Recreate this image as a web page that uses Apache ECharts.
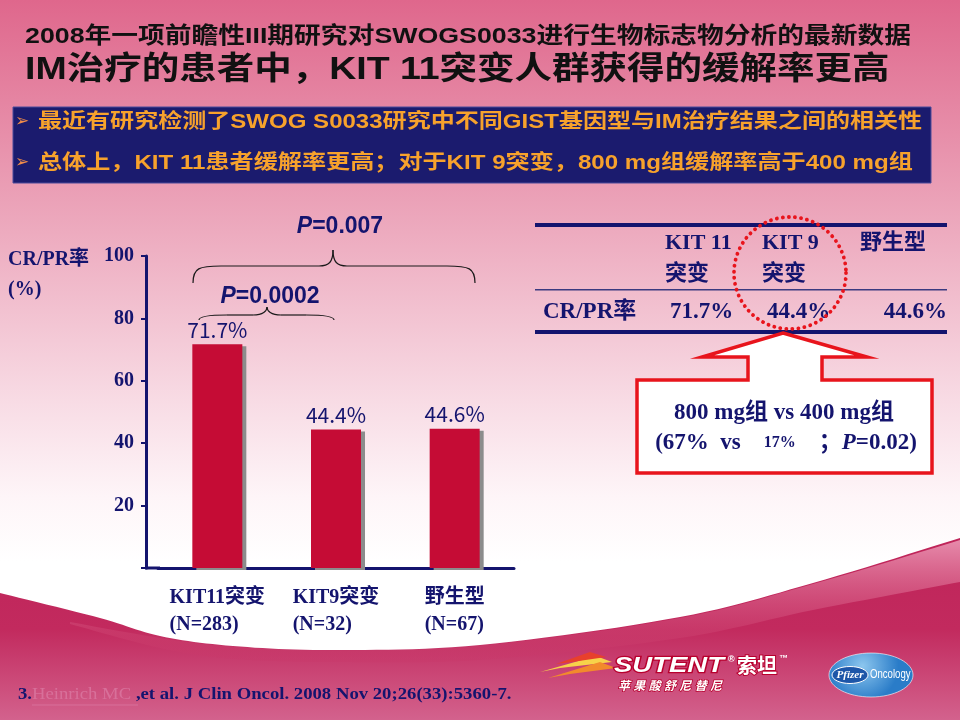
<!DOCTYPE html>
<html>
<head>
<meta charset="utf-8">
<script src="https://cdn.jsdelivr.net/npm/echarts@6/dist/echarts.min.js"></script>
<style>
html, body { margin: 0; padding: 0; background: #fff; }
#main { width: 960px; height: 720px; }
</style>
</head>
<body>
<div id="main"></div>
<script>
// 图表数据
const categories = ['KIT11突变', 'KIT9突变', '野生型'];
const sampleSizes = ['(N=283)', '(N=32)', '(N=67)'];
const responseRates = [71.7, 44.4, 44.6];
const yTicks = [0, 20, 40, 60, 80, 100];
const pValues = ['0.007', '0.0002'];
const tableHeads = [['KIT 11', '突变'], ['KIT 9', '突变'], ['野生型']];
const doseCompare = ['67%', '17%', '0.02'];

const NAVY = '#14146e';
const SERIF = '"Liberation Serif", "Noto Sans CJK SC", serif';
const SANS = '"Liberation Sans", "Noto Sans CJK SC", sans-serif';

function txt(x, y, text, size, opts) {
    opts = opts || {};
    return {
        type: 'text',
        x: x,
        y: y,
        scaleX: opts.scaleX || 1,
        z: opts.z || 20,
        style: {
            text: text,
            fill: opts.color || NAVY,
            fontSize: size,
            fontWeight: opts.weight || 'bold',
            fontStyle: opts.italic ? 'italic' : 'normal',
            fontFamily: opts.family || SERIF,
            align: opts.align || 'left',
            verticalAlign: 'middle',
            textAlign: opts.align || 'left',
            textVerticalAlign: 'middle',
            stroke: opts.stroke,
            lineWidth: opts.strokeWidth || 0,
            rich: opts.rich
        }
    };
}

function rs(size, extra) {
    return Object.assign({
        fontSize: size, fontWeight: 'bold', fontFamily: SERIF, fill: NAVY, color: NAVY
    }, extra || {});
}

// Catmull-Rom 平滑曲线采样（仅用于背景装饰）
function spline(pts, n) {
    const out = [];
    for (let i = 0; i < pts.length - 1; i++) {
        const p0 = pts[Math.max(i - 1, 0)], p1 = pts[i], p2 = pts[i + 1], p3 = pts[Math.min(i + 2, pts.length - 1)];
        for (let k = 0; k < n; k++) {
            const t = k / n, t2 = t * t, t3 = t2 * t;
            out.push([0, 1].map(d => 0.5 * (2 * p1[d] + (-p0[d] + p2[d]) * t +
                (2 * p0[d] - 5 * p1[d] + 4 * p2[d] - p3[d]) * t2 +
                (-p0[d] + 3 * p1[d] - 3 * p2[d] + p3[d]) * t3)));
        }
    }
    out.push(pts[pts.length - 1]);
    return out;
}

// 横向花括号
function brace(x1, x2, yEnd, yFlat, yPeak, xPeak) {
    const s = { stroke: '#1a1a1a', lineWidth: 1.2, fill: null };
    const r = 14;
    return [
        { type: 'bezierCurve', z: 20, style: s, shape: { x1: x1, y1: yEnd, cpx1: x1, cpy1: yFlat + 2, cpx2: x1 + 6, cpy2: yFlat, x2: x1 + r * 2, y2: yFlat } },
        { type: 'line', z: 20, style: s, shape: { x1: x1 + r * 2, y1: yFlat, x2: xPeak - r, y2: yFlat } },
        { type: 'bezierCurve', z: 20, style: s, shape: { x1: xPeak - r, y1: yFlat, cpx1: xPeak - 4, cpy1: yFlat, cpx2: xPeak, cpy2: yFlat - 4, x2: xPeak, y2: yPeak } },
        { type: 'bezierCurve', z: 20, style: s, shape: { x1: xPeak, y1: yPeak, cpx1: xPeak, cpy1: yFlat - 4, cpx2: xPeak + 4, cpy2: yFlat, x2: xPeak + r, y2: yFlat } },
        { type: 'line', z: 20, style: s, shape: { x1: xPeak + r, y1: yFlat, x2: x2 - r * 2, y2: yFlat } },
        { type: 'bezierCurve', z: 20, style: s, shape: { x1: x2 - r * 2, y1: yFlat, cpx1: x2 - 6, cpy1: yFlat, cpx2: x2, cpy2: yFlat + 2, x2: x2, y2: yEnd } }
    ];
}

const chart = echarts.init(document.getElementById('main'));

const waveTop = spline([[0, 593], [100, 618], [160, 636], [233, 646], [333, 650], [480, 645],
    [680, 617], [813, 583], [960, 538]], 12);
const wavePoly = waveTop.concat([[960, 720], [0, 720]]);
const bandUpper = spline([[70, 622], [160, 638], [233, 647], [333, 651], [480, 646],
    [680, 618], [813, 584], [960, 540]], 12);
const bandLower = spline([[960, 582], [813, 610], [680, 638], [480, 660], [333, 662],
    [233, 659], [160, 648], [70, 624]], 12);

const graphics = [];

// 背景
graphics.push({
    type: 'rect', z: -10, shape: { x: 0, y: 0, width: 960, height: 720 },
    style: {
        fill: new echarts.graphic.LinearGradient(0, 0, 0, 1, [
            { offset: 0, color: '#df678c' },
            { offset: 0.28, color: '#eba2b8' },
            { offset: 0.56, color: '#f8dce5' },
            { offset: 0.69, color: '#fef5f8' },
            { offset: 0.78, color: '#ffffff' },
            { offset: 1, color: '#ffffff' }
        ])
    }
});
graphics.push({
    type: 'polygon', z: -9, shape: { points: wavePoly },
    style: {
        fill: new echarts.graphic.LinearGradient(0, 0, 0, 1, [
            { offset: 0, color: '#bf2459' },
            { offset: 0.5, color: '#c22a5e' },
            { offset: 1, color: '#d3628d' }
        ])
    }
});
graphics.push({
    type: 'polygon', z: -8, shape: { points: bandUpper.concat(bandLower) },
    style: {
        fill: new echarts.graphic.LinearGradient(0, 0, 0, 1, [
            { offset: 0, color: 'rgba(235,150,180,0.9)' },
            { offset: 1, color: 'rgba(200,50,100,0.2)' }
        ])
    }
});

// 标题
graphics.push(txt(25, 37, '2008年一项前瞻性III期研究对SWOGS0033进行生物标志物分析的最新数据', 22.3,
    { family: SANS, color: '#111', scaleX: 1.2 }));
graphics.push(txt(25, 70, 'IM治疗的患者中，KIT 11突变人群获得的缓解率更高', 31.25,
    { family: SANS, color: '#111', scaleX: 1.2 }));

// 蓝色说明框
graphics.push({
    type: 'rect', z: 5, shape: { x: 13, y: 107, width: 918, height: 76 },
    style: { fill: '#1b1b6e', stroke: '#4a4a9a', lineWidth: 1 }
});
graphics.push(txt(15, 122, '➢', 17, { family: '"DejaVu Sans"', color: '#f08c4a', weight: 'normal' }));
graphics.push(txt(15, 163, '➢', 17, { family: '"DejaVu Sans"', color: '#f08c4a', weight: 'normal' }));
graphics.push(txt(38, 122, '最近有研究检测了SWOG S0033研究中不同GIST基因型与IM治疗结果之间的相关性', 20.05,
    { family: SANS, color: '#f7a22c', scaleX: 1.2 }));
graphics.push(txt(38, 163, '总体上，KIT 11患者缓解率更高；对于KIT 9突变，800 mg组缓解率高于400 mg组', 20.1,
    { family: SANS, color: '#f7a22c', scaleX: 1.2 }));

// 柱状图注释
graphics.push(txt(8, 260, 'CR/PR率', 20));
graphics.push(txt(8, 290, '(%)', 20));
graphics.push({
    type: 'line', z: 20, shape: { x1: 145, y1: 568, x2: 160, y2: 568 },
    style: { stroke: NAVY, lineWidth: 3 }
});
brace(193, 475, 283, 266, 250, 333).forEach(g => graphics.push(g));
brace(199, 334, 320, 315, 307, 267).forEach(g => graphics.push(g));
const pRich = { i: rs(23, { fontFamily: SANS, fontStyle: 'italic' }), a: rs(23, { fontFamily: SANS }) };
graphics.push(txt(340, 227, '{i|P}{a|=' + pValues[0] + '}', 23, { align: 'center', family: SANS, rich: pRich }));
graphics.push(txt(270, 297, '{i|P}{a|=' + pValues[1] + '}', 23, { align: 'center', family: SANS, rich: pRich }));

// 右侧表格
graphics.push({ type: 'rect', z: 20, shape: { x: 535, y: 223, width: 412, height: 4 }, style: { fill: NAVY } });
graphics.push({ type: 'rect', z: 20, shape: { x: 535, y: 289, width: 412, height: 1.5 }, style: { fill: '#3a3a80' } });
graphics.push({ type: 'rect', z: 20, shape: { x: 535, y: 330, width: 412, height: 4 }, style: { fill: NAVY } });
const headX = [665, 762, 860];
tableHeads.forEach((h, i) => {
    h.forEach((line, j) => graphics.push(txt(headX[i], 243 + j * 31, line, 22)));
});
graphics.push(txt(543, 312, 'CR/PR率', 23));
const valX = [670, 767, 947];
const valAlign = ['left', 'left', 'right'];
responseRates.forEach((v, i) => {
    graphics.push(txt(valX[i], 312, v.toFixed(1) + '%', 23, { align: valAlign[i] }));
});
graphics.push({
    type: 'circle', z: 30, shape: { cx: 790, cy: 273, r: 56 },
    style: { fill: null, stroke: '#e8141c', lineWidth: 3.8, lineDash: [0.1, 6], lineCap: 'round' }
});

// 红色标注框
graphics.push({
    type: 'polygon', z: 25,
    shape: { points: [[783, 333], [867, 357], [822, 357], [822, 380], [932, 380], [932, 473],
        [637, 473], [637, 380], [748, 380], [748, 357], [702, 357]] },
    style: { fill: '#ffffff', stroke: '#e8141c', lineWidth: 3.5, lineJoin: 'miter' }
});
graphics.push(txt(784, 413, '800 mg组 vs 400 mg组', 23, { align: 'center', z: 26 }));
graphics.push(txt(786, 443,
    '{a|(' + doseCompare[0] + '  vs    }{s|' + doseCompare[1] + '}{a|    ；}{i|P}{a|=' + doseCompare[2] + ')}', 23,
    { align: 'center', z: 26, rich: { a: rs(23), s: rs(16), i: rs(23, { fontStyle: 'italic' }) } }));

// 参考文献
graphics.push(txt(18, 695,
    '{a|3.}{l|Heinrich MC}{a| ,et al. J Clin Oncol. 2008 Nov 20;26(33):5360-7.}', 17,
    { scaleX: 1.1, rich: { a: rs(17), l: rs(17, { fontWeight: 'normal', fill: '#d8709a', color: '#d8709a' }) } }));
graphics.push({
    type: 'line', z: 20, shape: { x1: 32, y1: 705, x2: 138, y2: 705 },
    style: { stroke: '#d8709a', lineWidth: 1 }
});

// 商标装饰
graphics.push({ type: 'polygon', z: 20, shape: { points: [[540, 672], [596, 656], [612, 662], [560, 668]] }, style: { fill: '#f7d24a' } });
graphics.push({ type: 'polygon', z: 20, shape: { points: [[548, 678], [600, 662], [616, 668], [570, 674]] }, style: { fill: '#f28a2c' } });
graphics.push({ type: 'polygon', z: 20, shape: { points: [[556, 664], [590, 652], [606, 657], [572, 662]] }, style: { fill: '#e8402c' } });
graphics.push(txt(614, 666, 'SUTENT', 22, {
    family: SANS, italic: true, color: '#ffffff', stroke: '#b8002e', strokeWidth: 2.5, z: 21, scaleX: 1.25
}));
graphics.push(txt(728, 660, '®', 9, { family: SANS, color: '#ffffff', z: 21 }));
graphics.push(txt(737, 667, '索坦', 20, {
    family: SANS, color: '#ffffff', stroke: '#b8002e', strokeWidth: 2, z: 21
}));
graphics.push(txt(779, 659, '™', 9, { family: SANS, color: '#ffffff', z: 21 }));
graphics.push(txt(618, 687, '苹 果 酸 舒 尼 替 尼', 12, {
    family: SANS, italic: true, color: '#ffffff', stroke: '#b8002e', strokeWidth: 1.5, z: 21
}));
graphics.push({
    type: 'ellipse', z: 20, shape: { cx: 871, cy: 675, rx: 42, ry: 22 },
    style: {
        fill: new echarts.graphic.RadialGradient(0.4, 0.3, 0.8, [
            { offset: 0, color: '#8cc6ee' }, { offset: 1, color: '#2a7cc8' }
        ]),
        stroke: 'rgba(255,255,255,0.6)', lineWidth: 1
    }
});
graphics.push({
    type: 'ellipse', z: 21, shape: { cx: 850, cy: 675, rx: 18, ry: 8.5 },
    style: { fill: '#1d56a8', stroke: '#ffffff', lineWidth: 1 }
});
graphics.push(txt(850, 675, 'Pfizer', 11, { align: 'center', family: SERIF, italic: true, color: '#ffffff', z: 22 }));
graphics.push(txt(870, 675, 'Oncology', 12, { family: SANS, color: '#ffffff', weight: 'normal', z: 22, scaleX: 0.8 }));

chart.setOption({
    animation: false,
    grid: { left: 158, right: 446, top: 256, bottom: 152, containLabel: false },
    xAxis: {
        type: 'category',
        data: categories,
        axisLine: { lineStyle: { color: NAVY, width: 3 } },
        axisTick: { show: false },
        axisLabel: {
            interval: 0,
            margin: 16,
            formatter: (v, i) => '{a|' + v + '}\n{a|' + sampleSizes[i] + '}',
            rich: {
                a: { fontSize: 20, fontWeight: 'bold', fontFamily: SERIF, color: NAVY, lineHeight: 27, align: 'left' }
            }
        }
    },
    yAxis: {
        type: 'value',
        min: yTicks[0],
        max: yTicks[yTicks.length - 1],
        interval: yTicks[1] - yTicks[0],
        offset: 12,
        splitLine: { show: false },
        axisLine: { show: true, lineStyle: { color: NAVY, width: 3 } },
        axisTick: { show: true, length: 5, lineStyle: { color: NAVY, width: 2 } },
        axisLabel: {
            margin: 12,
            formatter: v => (v === 0 ? '' : v),
            fontSize: 20, fontWeight: 'bold', fontFamily: SERIF, color: NAVY
        }
    },
    series: [{
        type: 'bar',
        data: responseRates,
        barWidth: 50,
        itemStyle: {
            color: '#c50c35',
            shadowColor: '#8c8c8c',
            shadowOffsetX: 4,
            shadowOffsetY: 2,
            shadowBlur: 0
        },
        label: {
            show: true,
            position: 'top',
            distance: 4,
            formatter: p => p.value + '%',
            fontSize: 21,
            fontFamily: '"Noto Sans CJK SC", sans-serif',
            color: NAVY
        }
    }],
    graphic: graphics
});
</script>
</body>
</html>
